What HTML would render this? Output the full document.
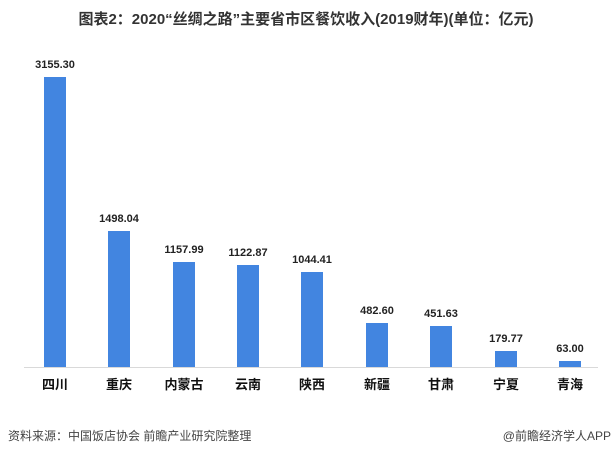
<!DOCTYPE html>
<html><head><meta charset="utf-8"><style>
body{margin:0;background:#fff;}
svg text{font-family:"Liberation Sans","Noto Sans CJK SC",sans-serif;}
</style></head><body>
<svg width="613" height="456" xmlns="http://www.w3.org/2000/svg">
<rect width="613" height="456" fill="#fff"/>
<text x="306" y="24" text-anchor="middle" font-size="15" font-weight="bold" fill="#333">图表2：2020“丝绸之路”主要省市区餐饮收入(2019财年)(单位：亿元)</text>
<line x1="24" y1="367.5" x2="598" y2="367.5" stroke="#d9d9d9" stroke-width="1"/>
<g fill="#4285e0">
<rect x="44" y="77" width="22" height="290"/>
<rect x="108" y="231" width="22" height="136"/>
<rect x="173" y="262" width="22" height="105"/>
<rect x="237" y="265" width="22" height="102"/>
<rect x="301" y="272" width="22" height="95"/>
<rect x="366" y="323" width="22" height="44"/>
<rect x="430" y="326" width="22" height="41"/>
<rect x="495" y="351" width="22" height="16"/>
<rect x="559" y="361" width="22" height="6"/>
</g>
<g font-size="11" font-weight="bold" fill="#222" text-anchor="middle">
<text x="55" y="68">3155.30</text>
<text x="119" y="222">1498.04</text>
<text x="184" y="253">1157.99</text>
<text x="248" y="256">1122.87</text>
<text x="312" y="263">1044.41</text>
<text x="377" y="314">482.60</text>
<text x="441" y="317">451.63</text>
<text x="506" y="342">179.77</text>
<text x="570" y="352">63.00</text>
</g>
<g font-size="13" font-weight="bold" fill="#111" text-anchor="middle">
<text x="55" y="389">四川</text>
<text x="119" y="389">重庆</text>
<text x="184" y="389">内蒙古</text>
<text x="248" y="389">云南</text>
<text x="312" y="389">陕西</text>
<text x="377" y="389">新疆</text>
<text x="441" y="389">甘肃</text>
<text x="506" y="389">宁夏</text>
<text x="570" y="389">青海</text>
</g>
<text x="8" y="440" font-size="12" fill="#444">资料来源：中国饭店协会  前瞻产业研究院整理</text>
<text x="611" y="440" font-size="12" fill="#444" text-anchor="end">@前瞻经济学人APP</text>
</svg>
</body></html>
